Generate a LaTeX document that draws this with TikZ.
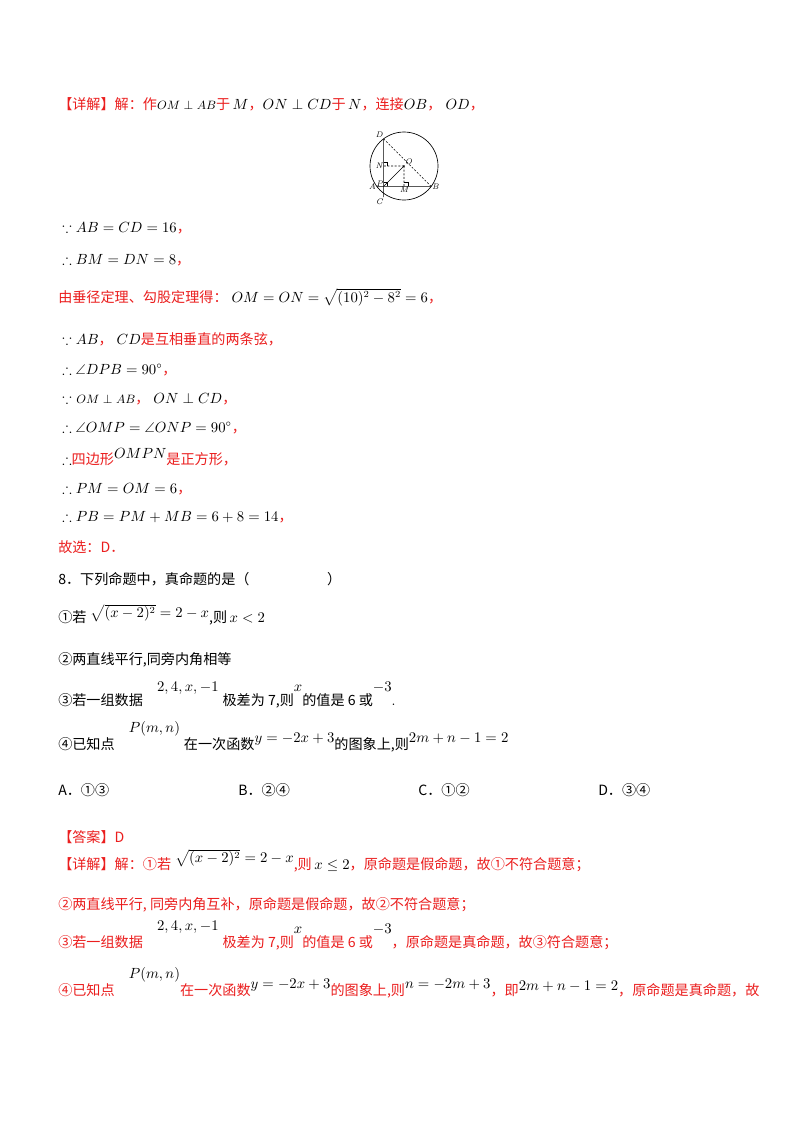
\documentclass[tikz,border=0pt]{standalone}
\usepackage{amsmath,amssymb}
\usepackage{fontspec}
\newfontfamily\cjk{Noto Sans CJK SC}
\usetikzlibrary{calc}
\definecolor{rd}{RGB}{235,30,30}
\begin{document}
\begin{tikzpicture}[x=0.744pt,y=-0.744pt,
  ln/.style={anchor=base west,inner sep=0pt,font=\fontsize{10.5}{12}\selectfont},
  lbl/.style={font=\fontsize{6}{7}\selectfont\itshape,inner sep=0.5pt}]
\useasboundingbox[fill=white] (0,0) rectangle (800,1132);
\newcommand{\R}[1]{\textcolor{rd}{\cjk #1}}
\newcommand{\K}[1]{{\cjk #1}}
% figure
\coordinate (O) at (404,166);
\coordinate (D) at (383.6,138.8);
\coordinate (C) at (383.6,197);
\coordinate (A) at (376.8,186.4);
\coordinate (B) at (431.2,186.4);
\coordinate (P) at (383.6,186.4);
\coordinate (N) at (383.6,166);
\coordinate (M) at (404,186.4);
\draw[line width=0.5pt] (O) circle (34);
\draw[line width=0.5pt] (D)--(C) (A)--(B) (O)--(P);
\draw[line width=0.4pt,dashed,dash pattern=on 1.5pt off 1.2pt] (D)--(B) (O)--(N) (O)--(M);
\draw[line width=0.3pt] (383.6,162)-|(387.6,166) (404,182.4)-|(408,186.4) (387.6,186.4)|-(383.6,182.4);
\fill (O) circle (0.9);
\node[lbl,above left] at (D) {D};
\node[lbl,above right] at (O) {O};
\node[lbl,left] at (N) {N};
\node[lbl,left] at ($(P)+(0,-3)$) {P};
\node[lbl,left] at (A) {A};
\node[lbl,right] at (B) {B};
\node[lbl,below left] at ($(C)+(0,1)$) {C};
\node[lbl,below] at (M) {M};
% text
\node[ln] (l1) at (58,109) {\R{【详解】解：作}{\small$OM\perp AB$}\R{于}$\,M$\R{，}$ON\perp CD$\R{于}$\,N$\R{，连接}$OB$\R{，}$\;OD$\R{，}};
\node[ln] (l2) at (62,232) {$\because AB=CD=16$\R{，}};
\node[ln] (l3) at (62,264) {$\therefore BM=DN=8$\R{，}};
\node[ln] (l4) at (58,302) {\R{由垂径定理、勾股定理得：}\;$OM=ON=\sqrt{(10)^2-8^2}=6$\R{，}};
\node[ln] (l5) at (62,344) {$\because AB$\R{，}\;$CD$\R{是互相垂直的两条弦，}};
\node[ln] (l6) at (62,374) {$\therefore \angle DPB=90^\circ$\R{，}};
\node[ln] (l7) at (62,403) {$\because$ {\small$OM\perp AB$}\R{，}\;$ON\perp CD$\R{，}};
\node[ln] (l8) at (62,432) {$\therefore \angle OMP=\angle ONP=90^\circ$\R{，}};
\node[ln] (l9) at (62,464) {$\therefore$\R{四边形}\raisebox{4pt}{$OMPN$}\R{是正方形，}};
\node[ln] (l10) at (62,493) {$\therefore PM=OM=6$\R{，}};
\node[ln] (l11) at (62,521) {$\therefore PB=PM+MB=6+8=14$\R{，}};
\node[ln] (l12) at (58,552) {\R{故选：D．}};
\node[ln] (l13) at (58,584) {\K{8．下列命题中，真命题的是（\hspace{5.5em}）}};
\node[ln] (l14) at (58,622) {\K{①若}\;\raisebox{3pt}{$\sqrt{(x-2)^2}=2-x$}\K{,则}$\,x<2$};
\node[ln] (l15) at (58,664) {\K{②两直线平行,同旁内角相等}};
\node[ln] (l16) at (58,705) {\K{③若一组数据}\quad\raisebox{10pt}{$2,4,x,-1$}\;\K{极差为 7,则}\raisebox{10pt}{$x$}\K{的值是 6 或}\raisebox{10pt}{$-3$}.};
\node[ln] (l17) at (58,749) {\K{④已知点}\quad\raisebox{12pt}{$P(m,n)$}\;\K{在一次函数}\raisebox{5pt}{$y=-2x+3$}\K{的图象上,则}\raisebox{5pt}{$2m+n-1=2$}};
\node[ln] (l18) at (58,795) {\K{A．①③}};
\node[ln] (l19) at (238,795) {\K{B．②④}};
\node[ln] (l20) at (418,795) {\K{C．①②}};
\node[ln] (l21) at (598,795) {\K{D．③④}};
\node[ln] (l22) at (58,842) {\R{【答案】D}};
\node[ln] (l23) at (58,869) {\R{【详解】解：①若}\;\raisebox{5pt}{\textcolor{black}{$\sqrt{(x-2)^2}=2-x$}}\R{,则}$\,x\le 2$\R{，原命题是假命题，故①不符合题意；}};
\node[ln] (l24) at (58,909) {\R{②两直线平行, 同旁内角互补，原命题是假命题，故②不符合题意；}};
\node[ln] (l25) at (58,947) {\R{③若一组数据}\quad\raisebox{12pt}{$2,4,x,-1$}\;\R{极差为 7,则}\raisebox{10pt}{$x$}\R{的值是 6 或}\raisebox{10pt}{$-3$}\R{，原命题是真命题，故③符合题意；}};
\node[ln] (l26) at (58,995) {\R{④已知点}\quad\raisebox{12pt}{$P(m,n)$}\R{在一次函数}\raisebox{5pt}{$y=-2x+3$}\R{的图象上,则}\raisebox{5pt}{$n=-2m+3$}\R{，即}\raisebox{3pt}{$2m+n-1=2$}\R{，原命题是真命题，故}};
\end{tikzpicture}
\end{document}
